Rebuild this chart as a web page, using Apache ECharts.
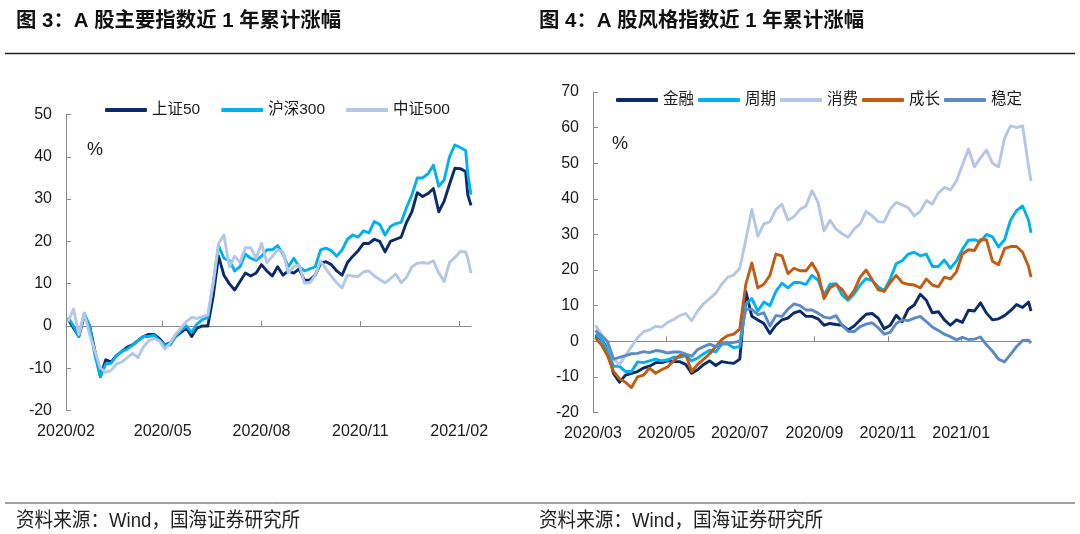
<!DOCTYPE html>
<html>
<head>
<meta charset="utf-8">
<script src="https://cdn.jsdelivr.net/npm/echarts@6/dist/echarts.min.js"></script>
<style>
html,body{margin:0;padding:0;background:#fff;}
#c{width:1080px;height:534px;}
</style>
</head>
<body>
<div id="c"></div>
<script>
// ---------- Figure 3 data ----------
const leftDates = ['2020-02-03','2020-02-08','2020-02-13','2020-02-18','2020-02-23','2020-02-28','2020-03-04','2020-03-09','2020-03-14','2020-03-19','2020-03-24','2020-03-29','2020-04-03','2020-04-08','2020-04-13','2020-04-18','2020-04-23','2020-04-28','2020-05-03','2020-05-08','2020-05-13','2020-05-18','2020-05-23','2020-05-28','2020-06-02','2020-06-07','2020-06-12','2020-06-17','2020-06-22','2020-06-27','2020-07-02','2020-07-07','2020-07-12','2020-07-17','2020-07-22','2020-07-27','2020-08-01','2020-08-06','2020-08-11','2020-08-16','2020-08-21','2020-08-26','2020-08-31','2020-09-05','2020-09-10','2020-09-15','2020-09-20','2020-09-25','2020-09-30','2020-10-05','2020-10-10','2020-10-15','2020-10-20','2020-10-25','2020-10-30','2020-11-04','2020-11-09','2020-11-14','2020-11-19','2020-11-24','2020-11-29','2020-12-04','2020-12-09','2020-12-14','2020-12-19','2020-12-24','2020-12-29','2021-01-03','2021-01-08','2021-01-13','2021-01-18','2021-01-23','2021-01-28','2021-02-02','2021-02-07','2021-02-09','2021-02-12'];
const sz50  = [1.5,-0.5,-2.5,2.5,0,-6,-12,-8,-8.5,-7,-6,-5,-4.5,-3.5,-2.5,-2,-2,-3,-4.5,-4,-2.5,-1.5,-0.5,-2.5,-0.5,0,0,7,16.5,12,10,8.5,10.5,12.5,11.8,12.5,14.5,13,11.8,14,12,13,12.5,13.5,10.8,10.9,12,14.8,15.2,14.5,13,12,15,16.5,17.8,19.5,19.5,20.5,20,17.5,20,20.5,21,24.5,27,31.5,30.6,31.3,32.5,27,29.5,33.5,37.3,37.2,36.5,31,28.5];
const hs300 = [2,0,-2.5,3,0,-7,-12,-9,-8.8,-7,-6,-5.5,-4.5,-3.5,-2.5,-2.5,-2.2,-3.5,-4.5,-4.5,-2.5,-1,0,-1.5,0.5,1.5,2,10,19,16,15.5,13,14,17,16,15.5,16.5,18,18,19,17,14,16,14,13,13.5,14,18,18.4,17.8,16.5,18,20.5,21.5,21,22.5,22,24.7,24,21.5,23.5,24.2,24.5,28,31,35,35,36,38,33,34.5,40,42.8,42.2,41.5,36,31];
const zz500 = [1,4,-2,3,-2,-6,-10,-11,-10.5,-9,-8.5,-7.5,-6.5,-7.5,-5,-3.5,-3,-3.5,-5.5,-4,-2,-0.5,1,2,1.8,2.2,2.6,10,19.5,21.5,14,16.5,15,18.5,18.5,16,19.5,15,16.4,18,17.5,12.5,14,14.5,10.1,10.2,12,15.3,13.5,11.8,10.2,9,12,11.8,11.7,12.8,13,11.8,11,10.2,11.2,12.3,10.2,11.5,14,14.8,15,14.8,15.4,12.5,10.5,15,16.2,17.6,17.5,16,12.5];
const leftNames = ['上证50','沪深300','中证500'];
const leftTicks = ['2020-02-01','2020-05-01','2020-08-01','2020-11-01','2021-02-01'];
const leftRange = ['2020-02-01','2021-02-12'];

// ---------- Figure 4 data ----------
const rightDates = ['2020-03-03','2020-03-08','2020-03-13','2020-03-18','2020-03-23','2020-03-28','2020-04-02','2020-04-07','2020-04-12','2020-04-17','2020-04-22','2020-04-27','2020-05-02','2020-05-07','2020-05-12','2020-05-17','2020-05-22','2020-05-27','2020-06-01','2020-06-06','2020-06-11','2020-06-16','2020-06-21','2020-06-26','2020-07-01','2020-07-06','2020-07-11','2020-07-16','2020-07-21','2020-07-26','2020-07-31','2020-08-05','2020-08-10','2020-08-15','2020-08-20','2020-08-25','2020-08-30','2020-09-04','2020-09-09','2020-09-14','2020-09-19','2020-09-24','2020-09-29','2020-10-04','2020-10-09','2020-10-14','2020-10-19','2020-10-24','2020-10-29','2020-11-03','2020-11-08','2020-11-13','2020-11-18','2020-11-23','2020-11-28','2020-12-03','2020-12-08','2020-12-13','2020-12-18','2020-12-23','2020-12-28','2021-01-02','2021-01-07','2021-01-12','2021-01-17','2021-01-22','2021-01-27','2021-02-01','2021-02-06','2021-02-11','2021-02-16','2021-02-21','2021-02-26','2021-02-28'];
const jinrong  = [1.5,0.5,-2,-9,-11.5,-9.5,-9,-8.5,-7.5,-7,-6,-6,-5.5,-5.7,-5.7,-6.5,-9,-8,-6.5,-5.5,-6.8,-5.7,-6,-6.2,-5,14,7,6,5,2.2,4.5,6,6.5,8,8.5,7,7,6.3,4.5,5,4.7,4.5,3.2,4.3,6,7.6,7.8,6.5,3.5,4.5,7.3,5.5,9,10.2,13.2,11.5,8,8.3,6,4.5,6,5.3,8.7,8.5,10.8,7.9,6,6.3,7.2,8.6,10.3,9.5,11,8.5];
const zhouqi   = [2,0.5,-2.5,-7,-7,-8.5,-8.5,-5.8,-6,-5.5,-5,-5.5,-5.2,-4.5,-4.5,-4,-5.5,-4.7,-3.5,-2.5,-3,-0.8,-0.8,-1.8,-1.5,10.5,12,8.5,11,10,14,16.3,15,16.5,16.5,16,18.5,17.2,13,16,16.2,13,11.5,13.3,15.8,17.6,17,15.3,14.2,17.5,21.8,22.6,24.5,25,24,24.5,21,21,22.8,20.5,22.5,25.8,28.4,28.5,28,30,29.3,26.5,28.5,34,36.7,38,34,30.5];
const xiaofei  = [4.5,2,-0.5,-5,-6.5,-4,-1.5,1,2.7,3.2,4.2,4,5.3,6.1,7.2,7.8,5.8,8.5,10.6,12,13.5,16,18,18.6,20.5,28.5,37,29.5,33,33.5,37,38.5,34,35,37,38,42.3,39,31,34,31.5,30.2,29.2,31.5,33,36.5,35.2,33.6,33.5,37.1,39,38.3,37.5,35.2,36.5,39.5,38.5,41.6,43.2,42.5,45,49.5,54,49,51.5,53.7,50,49,57,60.5,60,60.5,49,45];
const chengzhang = [1,-1,-4,-8.5,-10.5,-11.5,-13,-10,-9.5,-7.5,-9,-8,-7.2,-5.5,-4,-3.6,-8.5,-6.5,-5,-3.5,-1.5,0.5,1.6,2,3.5,16,22,15,16,18.5,24.5,24,19,20.5,19.8,19.8,22,19.1,12,15,16,14.5,12,14.2,18,20,17.3,14.5,14,16.5,18.5,16.5,16,15.8,15,17.5,15.8,15.3,18,17.5,19.5,24.5,25.7,25.5,28.5,28.5,22.5,21.5,26,26.6,26.6,25,21,18];
const wending  = [3,1.5,0,-5,-4.5,-4,-3.5,-3.4,-2.9,-3.2,-2.6,-2.8,-3.3,-3,-3,-3.6,-4.2,-2.3,-1.5,-0.8,-1.5,-0.6,-0.6,-0.3,0,9,9,7.5,8,4.3,7.2,7,9,10.5,10,8.8,8.8,7.9,6.8,6.5,7.2,4.5,2.8,2.7,4.1,4.8,5.2,3.8,2,2.5,5,6,5.8,6.5,7,5.5,4,3,2,1.3,0.4,1.1,0.5,0.6,1.2,-1,-2.8,-5,-5.8,-3.7,-1.5,0.2,0.3,-0.5];
const rightNames = ['金融','周期','消费','成长','稳定'];
const rightTicks = ['2020-03-01','2020-05-01','2020-07-01','2020-09-01','2020-11-01','2021-01-01'];
const rightRange = ['2020-03-01','2021-02-28'];

const leftYTicks = {min: -20, max: 50, interval: 10};
const rightYTicks = {min: -20, max: 70, interval: 10};

// ---------- helpers ----------
function ts(s){ const p = s.split('-').map(Number); return new Date(p[0], p[1]-1, p[2]).getTime(); }
function pairs(dates, vals){ return vals.map((v,i)=>[ts(dates[i]), v]); }
function fmt(v){ const d = new Date(v); return d.getFullYear() + '/' + String(d.getMonth()+1).padStart(2,'0'); }

const FONT = '"Liberation Sans", Arial, "Noto Sans CJK SC", sans-serif';
const AXIS_GRAY = '#8a8a8a';
const TXT = '#1a1a1a';
const C = {navy:'#0a2a6a', cyan:'#00b0f0', light:'#b4c7e7', orange:'#c55a11', steel:'#5b8ac7'};

function labelAxis(grid, range, ticks){
  return {
    type:'value', gridIndex:grid, min:ts(range[0]), max:ts(range[1]), position:'bottom',
    axisLine:{show:false, onZero:false}, axisTick:{show:false}, splitLine:{show:false},
    axisLabel:{customValues:ticks.map(ts), formatter:fmt, fontSize:16, color:TXT, fontFamily:FONT, margin:13, showMinLabel:true, showMaxLabel:true, hideOverlap:false}
  };
}
function zeroAxis(grid, range, ticks){
  return {
    type:'value', gridIndex:grid, min:ts(range[0]), max:ts(range[1]), position:'bottom',
    axisLine:{show:true, onZero:true, lineStyle:{color:AXIS_GRAY, width:1}},
    axisTick:{show:true, inside:true, length:5, customValues:ticks.map(ts), lineStyle:{color:AXIS_GRAY}},
    axisLabel:{show:false}, splitLine:{show:false}
  };
}
function yAxis(grid, t){
  return {
    type:'value', gridIndex:grid, min:t.min, max:t.max, interval:t.interval,
    axisLine:{show:true, onZero:false, lineStyle:{color:AXIS_GRAY, width:1}},
    axisTick:{show:true, inside:true, length:5, lineStyle:{color:AXIS_GRAY}},
    axisLabel:{fontSize:16, color:TXT, fontFamily:FONT, margin:14},
    splitLine:{show:false}
  };
}
function line(name, dates, vals, color, xi, yi){
  return {
    name, type:'line', xAxisIndex:xi, yAxisIndex:yi, data:pairs(dates, vals),
    showSymbol:false, symbol:'none', smooth:false,
    lineStyle:{color, width:2.9, join:'round'}, itemStyle:{color}, emphasis:{disabled:true}
  };
}

const chart = echarts.init(document.getElementById('c'), null, {renderer:'canvas'});
chart.setOption({
  animation:false,
  backgroundColor:'#ffffff',
  textStyle:{fontFamily:FONT},
  grid:[
    {left:66, top:114.5, width:405, height:296, containLabel:false},
    {left:593, top:92, width:438, height:320.5, containLabel:false}
  ],
  legend:[
    {data:leftNames, left:100, top:97, icon:'roundRect', itemWidth:42, itemHeight:4, itemGap:21,
     textStyle:{fontSize:15.5, color:TXT, fontFamily:FONT, lineHeight:16}, selectedMode:false},
    {data:rightNames, left:611, top:87, icon:'roundRect', itemWidth:42, itemHeight:4, itemGap:4,
     textStyle:{fontSize:15.5, color:TXT, fontFamily:FONT, lineHeight:16}, selectedMode:false}
  ],
  xAxis:[
    labelAxis(0, leftRange, leftTicks),
    zeroAxis(0, leftRange, leftTicks),
    labelAxis(1, rightRange, rightTicks),
    zeroAxis(1, rightRange, rightTicks)
  ],
  yAxis:[ yAxis(0, leftYTicks), yAxis(1, rightYTicks) ],
  series:[
    line(leftNames[0], leftDates, sz50, C.navy, 0, 0),
    line(leftNames[1], leftDates, hs300, C.cyan, 0, 0),
    line(leftNames[2], leftDates, zz500, C.light, 0, 0),
    line(rightNames[0], rightDates, jinrong, C.navy, 2, 1),
    line(rightNames[1], rightDates, zhouqi, C.cyan, 2, 1),
    line(rightNames[2], rightDates, xiaofei, C.light, 2, 1),
    line(rightNames[3], rightDates, chengzhang, C.orange, 2, 1),
    line(rightNames[4], rightDates, wending, C.steel, 2, 1)
  ],
  graphic:[
    {type:'text', left:16, top:11, style:{text:'图 3：A 股主要指数近 1 年累计涨幅', font:'bold 20.4px ' + FONT, fill:'#111'}},
    {type:'text', left:539, top:11, style:{text:'图 4：A 股风格指数近 1 年累计涨幅', font:'bold 20.4px ' + FONT, fill:'#111'}},
    {type:'line', shape:{x1:5, y1:53.5, x2:1075, y2:53.5}, style:{stroke:'#222', lineWidth:1.4}},
    {type:'line', shape:{x1:5, y1:503, x2:1075, y2:503}, style:{stroke:'#444', lineWidth:1}},
    {type:'text', left:87, top:141, style:{text:'%', font:'18px ' + FONT, fill:TXT}},
    {type:'text', left:612, top:135, style:{text:'%', font:'18px ' + FONT, fill:TXT}},
    {type:'text', x:16, y:521, scaleX:0.93, style:{text:'资料来源：Wind，国海证券研究所', font:'20px ' + FONT, fill:'#222', textVerticalAlign:'middle'}},
    {type:'text', x:539, y:521, scaleX:0.93, style:{text:'资料来源：Wind，国海证券研究所', font:'20px ' + FONT, fill:'#222', textVerticalAlign:'middle'}}
  ]
});
</script>
</body>
</html>
